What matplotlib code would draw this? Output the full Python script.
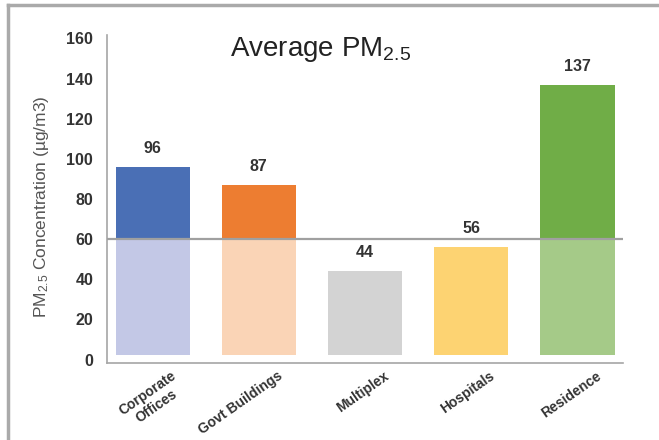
import matplotlib
matplotlib.use("Agg")
import matplotlib.pyplot as plt
import matplotlib.transforms as mtransforms

categories = ["Corporate\nOffices", "Govt Buildings", "Multiplex", "Hospitals", "Residence"]
values = [96, 87, 44, 56, 137]
dark_colors = ["#4A6FB5", "#ED7D31", "#A5A5A5", "#FFC000", "#70AD47"]
light_colors = ["#C3C8E6", "#FAD4B6", "#D3D3D3", "#FDD372", "#A5CA88"]
limit = 60
yticks = [0, 20, 40, 60, 80, 100, 120, 140, 160]

plt.rcParams["font.family"] = ["Liberation Sans", "DejaVu Sans"]
plt.rcParams["mathtext.fontset"] = "custom"
plt.rcParams["mathtext.rm"] = "Liberation Sans"

fig = plt.figure(figsize=(6.59, 4.40), dpi=100)
ax = fig.add_axes([0.1624, 0.175, 0.783, 0.7455])

base = 2.5   # bars float a little above the axis in the original
width = 0.7
for i, v in enumerate(values):
    low_top = min(v, limit)
    ax.bar(i, low_top - base, bottom=base, width=width, color=light_colors[i], zorder=2)
    if v > limit:
        ax.bar(i, v - limit, bottom=limit, width=width, color=dark_colors[i], zorder=2)
    ax.text(i, v + 5.5, str(v), ha="center", va="bottom", fontsize=11.5,
            fontweight="bold", color="#333333")

ax.axhline(limit, color="#A0A0A0", lw=1.6, zorder=3)

ax.set_xlim(-0.43, 4.43)
ax.set_ylim(-1.7, 161.7)
ax.set_yticks(yticks)
ax.tick_params(axis="y", length=0, pad=10, labelsize=11.5, labelcolor="#333333")
ax.tick_params(axis="x", length=0, pad=4)
ax.set_xticks(range(len(categories)))
ax.set_xticklabels(categories, rotation=35, ha="right", va="top",
                   rotation_mode="anchor", fontsize=10, fontweight="bold",
                   color="#333333", multialignment="center")
shift = mtransforms.ScaledTranslation(18 / 100, 0, fig.dpi_scale_trans)
for lab in ax.get_xticklabels():
    lab.set_transform(lab.get_transform() + shift)
for lab in ax.get_yticklabels():
    lab.set_fontweight("bold")

for s in ["top", "right"]:
    ax.spines[s].set_visible(False)
ax.spines["left"].set_color("#A6A6A6")
ax.spines["bottom"].set_color("#A6A6A6")
ax.spines["left"].set_linewidth(1.2)
ax.spines["bottom"].set_linewidth(1.2)

fig.text(0.063, 0.53, r"PM$\mathregular{_{2.5}}$ Concentration (µg/m3)", rotation=90,
         ha="center", va="center", fontsize=12.5, color="#555555")
fig.text(0.486, 0.888, r"Average PM$\mathregular{_{2.5}}$", ha="center", va="center",
         fontsize=20, color="#222222")

# grey frame on top and left edges
fig.add_artist(plt.Line2D([0.012, 1.0], [0.988, 0.988], color="#AAAAAA", lw=2.5))
fig.add_artist(plt.Line2D([0.012, 0.012], [0.0, 0.988], color="#AAAAAA", lw=2.5))

fig.savefig("out.png", dpi=100)
